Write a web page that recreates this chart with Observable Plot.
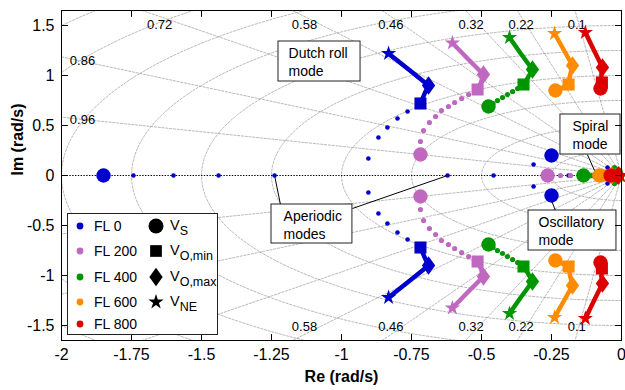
<!DOCTYPE html>
<html><head><meta charset="utf-8">
<script src="https://cdn.jsdelivr.net/npm/d3@7"></script>
<script src="https://cdn.jsdelivr.net/npm/@observablehq/plot@0.6"></script>
<style>
html,body{margin:0;padding:0;background:#fff;}
svg{display:block;}
</style></head><body>
<script>
// ---------------- data ----------------
const flLabels = ["FL 0", "FL 200", "FL 400", "FL 600", "FL 800"];
const flColors = ["#0000cd", "#c068c0", "#009600", "#ff8c00", "#dc0000"];
const speedSubs = ["S", "O,min", "O,max", "NE"];
const speedKeys = ["S", "Omin", "Omax", "NE"];

const xTicks = [-2, -1.75, -1.5, -1.25, -1, -0.75, -0.5, -0.25, 0];
const xTickLabels = ["-2", "-1.75", "-1.5", "-1.25", "-1", "-0.75", "-0.5", "-0.25", "0"];
const yTicks = [-1.5, -1, -0.5, 0, 0.5, 1, 1.5];
const yTickLabels = ["-1.5", "-1", "-0.5", "0", "0.5", "1", "1.5"];

// s-plane grid: damping ratios and natural frequencies (rad/s)
const zetaTop = [0.1, 0.22, 0.32, 0.46, 0.58, 0.72];
const zetaSide = [0.86, 0.96];
const wnCircles = [0.25, 0.5, 0.75, 1, 1.25, 1.5, 1.75, 2, 2.25, 2.5];

// eigenvalues [Re, Im] (upper half; complex conjugates are drawn too)
// small dots = intermediate speeds
const fl0Dots = [[-0.764,0.64],[-0.800,0.57],[-0.836,0.48],[-0.868,0.38],[-0.904,0.17],
  [-1.743,0],[-1.600,0],[-1.439,0],[-1.239,0],[-0.621,0],[-0.457,0],[-0.189,0],[-0.314,0.11],[-0.050,0.08]];
const fl200Dots = [[-0.546,0.81],[-0.571,0.77],[-0.596,0.73],[-0.618,0.69],[-0.643,0.65],[-0.664,0.59],
  [-0.686,0.53],[-0.707,0.45],[-0.718,0.34],[-0.218,0],[-0.182,0]];
const fl400Dots = [[-0.371,0.87],[-0.389,0.84],[-0.407,0.81],[-0.425,0.78],[-0.443,0.75],[-0.459,0.72],
  [-0.120,0],[-0.107,0],[-0.025,0.08]];
const fl600Dots = [];
const fl800Dots = [];

// thick path V_O,min (or V_S) -> V_O,max -> V_NE
const fl0Path = [[-0.718,0.72],[-0.703,0.82],[-0.689,0.90],[-0.760,1.06],[-0.832,1.22]];
const fl200Path = [[-0.514,0.86],[-0.502,0.93],[-0.493,1.01],[-0.550,1.17],[-0.604,1.325]];
const fl400Path = [[-0.350,0.91],[-0.336,0.97],[-0.318,1.06],[-0.360,1.22],[-0.400,1.38]];
const fl600Path = [[-0.236,0.85],[-0.212,0.88],[-0.189,0.91],[-0.184,1.00],[-0.175,1.10],[-0.207,1.26],[-0.239,1.42]];
const fl800Path = [[-0.075,0.87],[-0.073,0.91],[-0.070,0.94],[-0.072,1.01],[-0.068,1.08],[-0.098,1.25],[-0.129,1.43]];

// key speeds
const fl0Marks = [[-1.85,0,"S"],[-0.25,0.20,"S"],[-0.718,0.72,"Omin"],[-0.689,0.90,"Omax"],[-0.832,1.22,"NE"]];
const fl200Marks = [[-0.718,0.21,"S"],[-0.264,0,"S"],[-0.514,0.86,"Omin"],[-0.493,1.01,"Omax"],[-0.604,1.325,"NE"],
  [-0.020,0,"Omin"],[-0.012,0,"Omax"],[-0.006,0,"NE"]];
const fl400Marks = [[-0.475,0.69,"S"],[-0.136,0,"S"],[-0.350,0.91,"Omin"],[-0.318,1.06,"Omax"],[-0.400,1.38,"NE"],
  [-0.018,0,"Omin"],[-0.010,0,"Omax"],[-0.004,0,"NE"]];
const fl600Marks = [[-0.236,0.85,"S"],[-0.079,0,"S"],[-0.189,0.91,"Omin"],[-0.175,1.10,"Omax"],[-0.239,1.42,"NE"],
  [-0.050,0,"Omin"],[-0.035,0,"Omax"],[-0.020,0,"NE"]];
const fl800Marks = [[-0.075,0.87,"S"],[-0.039,0,"S"],[-0.070,0.93,"Omin"],[-0.068,1.08,"Omax"],[-0.129,1.43,"NE"],
  [-0.020,0,"Omin"],[-0.012,0,"Omax"],[-0.004,0,"NE"]];

// annotations
const noteTexts = ["Dutch roll\nmode", "Spiral\nmode", "Oscillatory\nmode", "Aperiodic\nmodes"];
const noteBoxes = [[-1.225,-0.932,0.94,1.34],[-0.218,-0.0036,0.21,0.61],[-0.332,-0.018,-0.75,-0.35],[-1.25,-0.961,-0.68,-0.29]];
const noteTextPos = [[-1.189,1.14],[-0.175,0.41],[-0.296,-0.55],[-1.207,-0.485]];
const noteLinks = [[-0.122,0.21,-0.093,0.03],[-0.236,-0.35,-0.254,-0.22],[-1.218,-0.29,-1.239,0],[-0.961,-0.33,-0.621,0]];

// ---------------- build ----------------
const allDots = [fl0Dots, fl200Dots, fl400Dots, fl600Dots, fl800Dots];
const allPaths = [fl0Path, fl200Path, fl400Path, fl600Path, fl800Path];
const allMarks = [fl0Marks, fl200Marks, fl400Marks, fl600Marks, fl800Marks];
const dotR = [2.3, 2.6, 2.6, 2.6, 2.6];

const mirror = pts => pts.flatMap(([re, im, k]) => im === 0 ? [{re, im, k}] : [{re, im, k}, {re, im: -im, k}]);
const mirrorPath = pts => [1, -1].flatMap(s => pts.map(([re, im]) => ({re, im: s * im, side: s})));

const diamondSym = {
  draw(ctx, size) {
    const k = Math.sqrt(size / Math.PI), h = k * 1.35, w = k * 0.98;
    ctx.moveTo(0, -h); ctx.lineTo(w, 0); ctx.lineTo(0, h); ctx.lineTo(-w, 0); ctx.closePath();
  }
};
const symFor = {S: "circle", Omin: "square", Omax: diamondSym, NE: "star"};
const rFor = {S: 7.2, Omin: 6.8, Omax: 6.8, NE: 4.8};

const gridStyle = {stroke: "#8a8a8a", strokeWidth: 0.6, strokeDasharray: "2.2,1.6", clip: true};
const circleData = wnCircles.flatMap(r => d3.range(0, 181, 2).map(a => {
  const t = (90 + a) * Math.PI / 180;
  return {r, re: r * Math.cos(t), im: r * Math.sin(t)};
}));
const zetaLines = [...zetaTop, ...zetaSide].flatMap(z => [1, -1].flatMap(s => [
  {id: z + "_" + s, re: 0, im: 0},
  {id: z + "_" + s, re: -3 * z, im: s * 3 * Math.sqrt(1 - z * z)}
]));
const zetaLabels = [
  ...zetaTop.flatMap(z => [1, -1].map(s => ({t: String(z), re: -1.59 * z / Math.sqrt(1 - z * z), im: s * 1.51}))),
  ...zetaSide.flatMap(z => [1, -1].map(s => ({t: String(z), re: -1.925, im: s * 1.925 * Math.sqrt(1 - z * z) / z})))
];

const tickShape = {draw(ctx, l) { ctx.moveTo(0, 0); ctx.lineTo(0, -l); }};
const tickOpts = {length: 6, anchor: "start", shape: tickShape, stroke: "black", strokeWidth: 1};

const dataMarks = [];
flLabels.forEach((fl, i) => {
  const c = flColors[i];
  dataMarks.push(Plot.dot(mirror(allDots[i]), {x: "re", y: "im", r: dotR[i], fill: c}));
  dataMarks.push(Plot.line(mirrorPath(allPaths[i]), {x: "re", y: "im", z: "side", stroke: c, strokeWidth: 4.5,
    strokeLinejoin: "round", strokeLinecap: "round"}));
  ["NE", "Omax", "Omin", "S"].forEach(k => {
    dataMarks.push(Plot.dot(mirror(allMarks[i]).filter(d => d.k === k),
      {x: "re", y: "im", symbol: symFor[k], r: rFor[k], fill: c}));
  });
});

const svg = Plot.plot({
  width: 625, height: 390,
  marginLeft: 61, marginRight: 4, marginTop: 10, marginBottom: 50,
  x: {domain: [-2, 0], axis: null},
  y: {domain: [-1.65, 1.65], axis: null},
  style: {fontFamily: '"Liberation Sans", Arial, sans-serif', fontSize: "16px", background: "#fff", color: "#000"},
  marks: [
    Plot.line(circleData, {x: "re", y: "im", z: "r", ...gridStyle}),
    Plot.line(zetaLines, {x: "re", y: "im", z: "id", ...gridStyle}),
    Plot.text(zetaLabels, {x: "re", y: "im", text: "t", fontSize: 13, clip: true}),
    Plot.ruleY([0], {stroke: "black", strokeWidth: 1, strokeDasharray: "1.4,1.4"}),
    Plot.link(noteLinks, {x1: d => d[0], y1: d => d[1], x2: d => d[2], y2: d => d[3], stroke: "black", strokeWidth: 1}),
    ...dataMarks,
    Plot.rect(noteBoxes, {x1: d => d[0], x2: d => d[1], y1: d => d[2], y2: d => d[3], fill: "white", stroke: "#222", strokeWidth: 1}),
    Plot.text(noteTexts, {x: (d, i) => noteTextPos[i][0], y: (d, i) => noteTextPos[i][1], text: d => d,
      textAnchor: "start", lineAnchor: "middle", lineHeight: 1.3, fontSize: 14}),
    // axes
    Plot.text(xTicks, {x: d => d, frameAnchor: "bottom", dy: 19, text: (d, i) => xTickLabels[i], fontSize: 16}),
    Plot.text(yTicks, {y: d => d, frameAnchor: "left", dx: -7, text: (d, i) => yTickLabels[i], textAnchor: "end", fontSize: 16}),
    Plot.vector(xTicks, {x: d => d, y: -1.65, rotate: 0, ...tickOpts}),
    Plot.vector(xTicks, {x: d => d, y: 1.65, rotate: 180, ...tickOpts}),
    Plot.vector(yTicks, {y: d => d, x: -2, rotate: 90, ...tickOpts}),
    Plot.vector(yTicks, {y: d => d, x: 0, rotate: 270, ...tickOpts}),
    Plot.text(["Re (rad/s)"], {frameAnchor: "bottom", dy: 41, fontWeight: "bold", fontSize: 16}),
    Plot.text(["Im (rad/s)"], {frameAnchor: "left", dx: -44, rotate: -90, fontWeight: "bold", fontSize: 16}),
    Plot.frame({stroke: "black", strokeWidth: 1})
  ]
});
document.body.append(svg);

// ---------------- legend ----------------
const lg = d3.select(svg).append("g")
  .attr("font-family", '"Liberation Sans", Arial, sans-serif')
  .attr("text-anchor", "start").style("text-anchor", "start");
lg.append("rect").attr("x", 67.5).attr("y", 213.5).attr("width", 150).attr("height", 121)
  .attr("fill", "white").attr("stroke", "#222").attr("stroke-width", 1);
const rowsFL = [226, 251, 277, 302, 324];
flLabels.forEach((fl, i) => {
  lg.append("circle").attr("cx", 80).attr("cy", rowsFL[i]).attr("r", 3.4).attr("fill", flColors[i]);
  lg.append("text").attr("x", 94).attr("y", rowsFL[i] + 5).attr("font-size", 14)
    .attr("text-anchor", "start").attr("fill", "black").text(fl);
});
const legSym = {S: d3.symbolCircle, Omin: d3.symbolSquare, Omax: diamondSym, NE: d3.symbolStar};
const legR = {S: 7.5, Omin: 6.6, Omax: 6.8, NE: 4.8};
speedKeys.forEach((k, i) => {
  const y = rowsFL[i];
  const size = legR[k] * legR[k] * Math.PI;
  lg.append("path").attr("transform", `translate(156,${y})`)
    .attr("d", d3.symbol().type(legSym[k]).size(size)()).attr("fill", "black");
  const t = lg.append("text").attr("x", 170).attr("y", y + 4).attr("font-size", 14.5)
    .attr("text-anchor", "start").attr("fill", "black");
  t.append("tspan").text("V");
  t.append("tspan").attr("dy", 5).attr("font-size", 12.5).text(speedSubs[i]);
});
</script>
</body></html>
